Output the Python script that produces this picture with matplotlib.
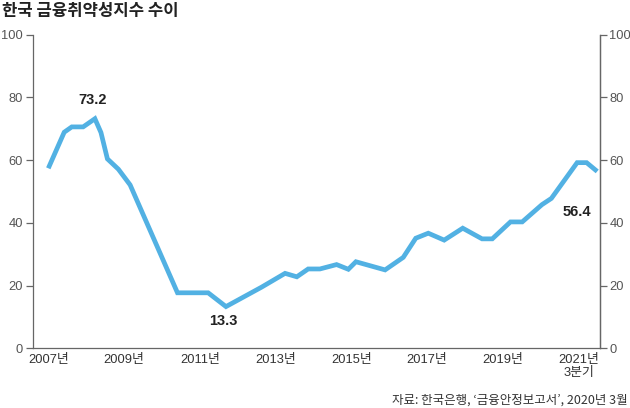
import matplotlib
matplotlib.use("Agg")
import matplotlib.pyplot as plt
from matplotlib import font_manager

# ---- data ----
t = [2007.00, 2007.42, 2007.62, 2007.92, 2008.23, 2008.39, 2008.56, 2008.85,
     2009.16, 2010.41, 2011.22, 2011.69, 2012.63, 2013.25, 2013.56, 2013.86,
     2014.17, 2014.61, 2014.92, 2015.12, 2015.89, 2016.37, 2016.70, 2017.03,
     2017.45, 2017.94, 2018.45, 2018.72, 2019.20, 2019.51, 2020.03, 2020.28,
     2020.96, 2021.21, 2021.49]
v = [57.4, 68.9, 70.6, 70.6, 73.2, 68.8, 60.4, 57.1,
     52.1, 17.7, 17.7, 13.3, 19.5, 23.9, 22.8, 25.3,
     25.3, 26.7, 25.2, 27.6, 25.0, 29.0, 35.1, 36.7,
     34.5, 38.3, 34.9, 34.9, 40.3, 40.3, 45.8, 47.8,
     59.2, 59.2, 56.4]
year_ticks = [2007, 2009, 2011, 2013, 2015, 2017, 2019, 2021]
year_labels = ["2007년", "2009년", "2011년", "2013년", "2015년", "2017년", "2019년", "2021년\n3분기"]
y_ticks = [0, 20, 40, 60, 80, 100]
title = "한국 금융취약성지수 수이"
source = "자료: 한국은행, ‘금융안정보고서’, 2020년 3월"
callouts = [(73.2, 2008.18, 79.2), (13.3, 2011.61, 8.7), (56.4, 2020.95, 43.5)]

names = {f.name for f in font_manager.fontManager.ttflist}
narrow = "Liberation Sans Narrow" in names
NUMF = "Liberation Sans Narrow" if narrow else "Liberation Sans"
NUM = [NUMF, "Noto Sans CJK KR", "DejaVu Sans"]
KR = ["Noto Sans CJK KR", "DejaVu Sans"]
plt.rcParams['font.family'] = NUM
tick_fs = 10.5 if narrow else 9.3

fig = plt.figure(figsize=(6.3, 4.08), dpi=100)
ax = fig.add_axes([0.0516, 0.1463, 0.9004, 0.7687])
line_color = "#52b1e3"
grey = "#666666"

ax.plot(t, v, color=line_color, lw=3.4, solid_joinstyle="miter", solid_capstyle="butt", zorder=3)
ax.set_xlim(2006.583, 2021.557)
ax.set_ylim(0, 100)

ax.spines["top"].set_visible(False)
for s in ["left", "right", "bottom"]:
    ax.spines[s].set_color(grey)
    ax.spines[s].set_linewidth(0.9)

ax.set_yticks(y_ticks)
ax.set_yticklabels([str(y) for y in y_ticks], family=NUM)
ax.tick_params(axis="y", direction="out", length=5, width=0.9, color=grey,
               labelcolor="#555555", labelsize=tick_fs, pad=2)
ax.set_xticks(year_ticks)
ax.set_xticklabels(year_labels, family=NUM, fontsize=tick_fs, color="#333333",
                   va="top", linespacing=1.1)
ax.tick_params(axis="x", length=0, pad=4)

ax2 = ax.twinx()
ax2.set_ylim(0, 100)
ax2.set_yticks(y_ticks)
ax2.set_yticklabels([str(y) for y in y_ticks], family=NUM)
ax2.tick_params(axis="y", direction="out", length=5, width=0.9, color=grey,
                labelcolor="#555555", labelsize=tick_fs, pad=2)
for s in ["top", "left", "bottom"]:
    ax2.spines[s].set_visible(False)
ax2.spines["right"].set_color(grey)
ax2.spines["right"].set_linewidth(0.9)

for val, x, y in callouts:
    ax.text(x, y, f"{val}", ha="center", va="center", fontsize=10.5,
            fontweight="bold", color="#222222", family=NUM)

fig.text(0.003, 0.972, title, ha="left", va="center", fontsize=12,
         fontweight="bold", color="#222222", family=KR)
fig.text(0.997, 0.02, source, ha="right", va="center", fontsize=9,
         color="#333333", family=KR)

fig.savefig("out.png", dpi=100)
